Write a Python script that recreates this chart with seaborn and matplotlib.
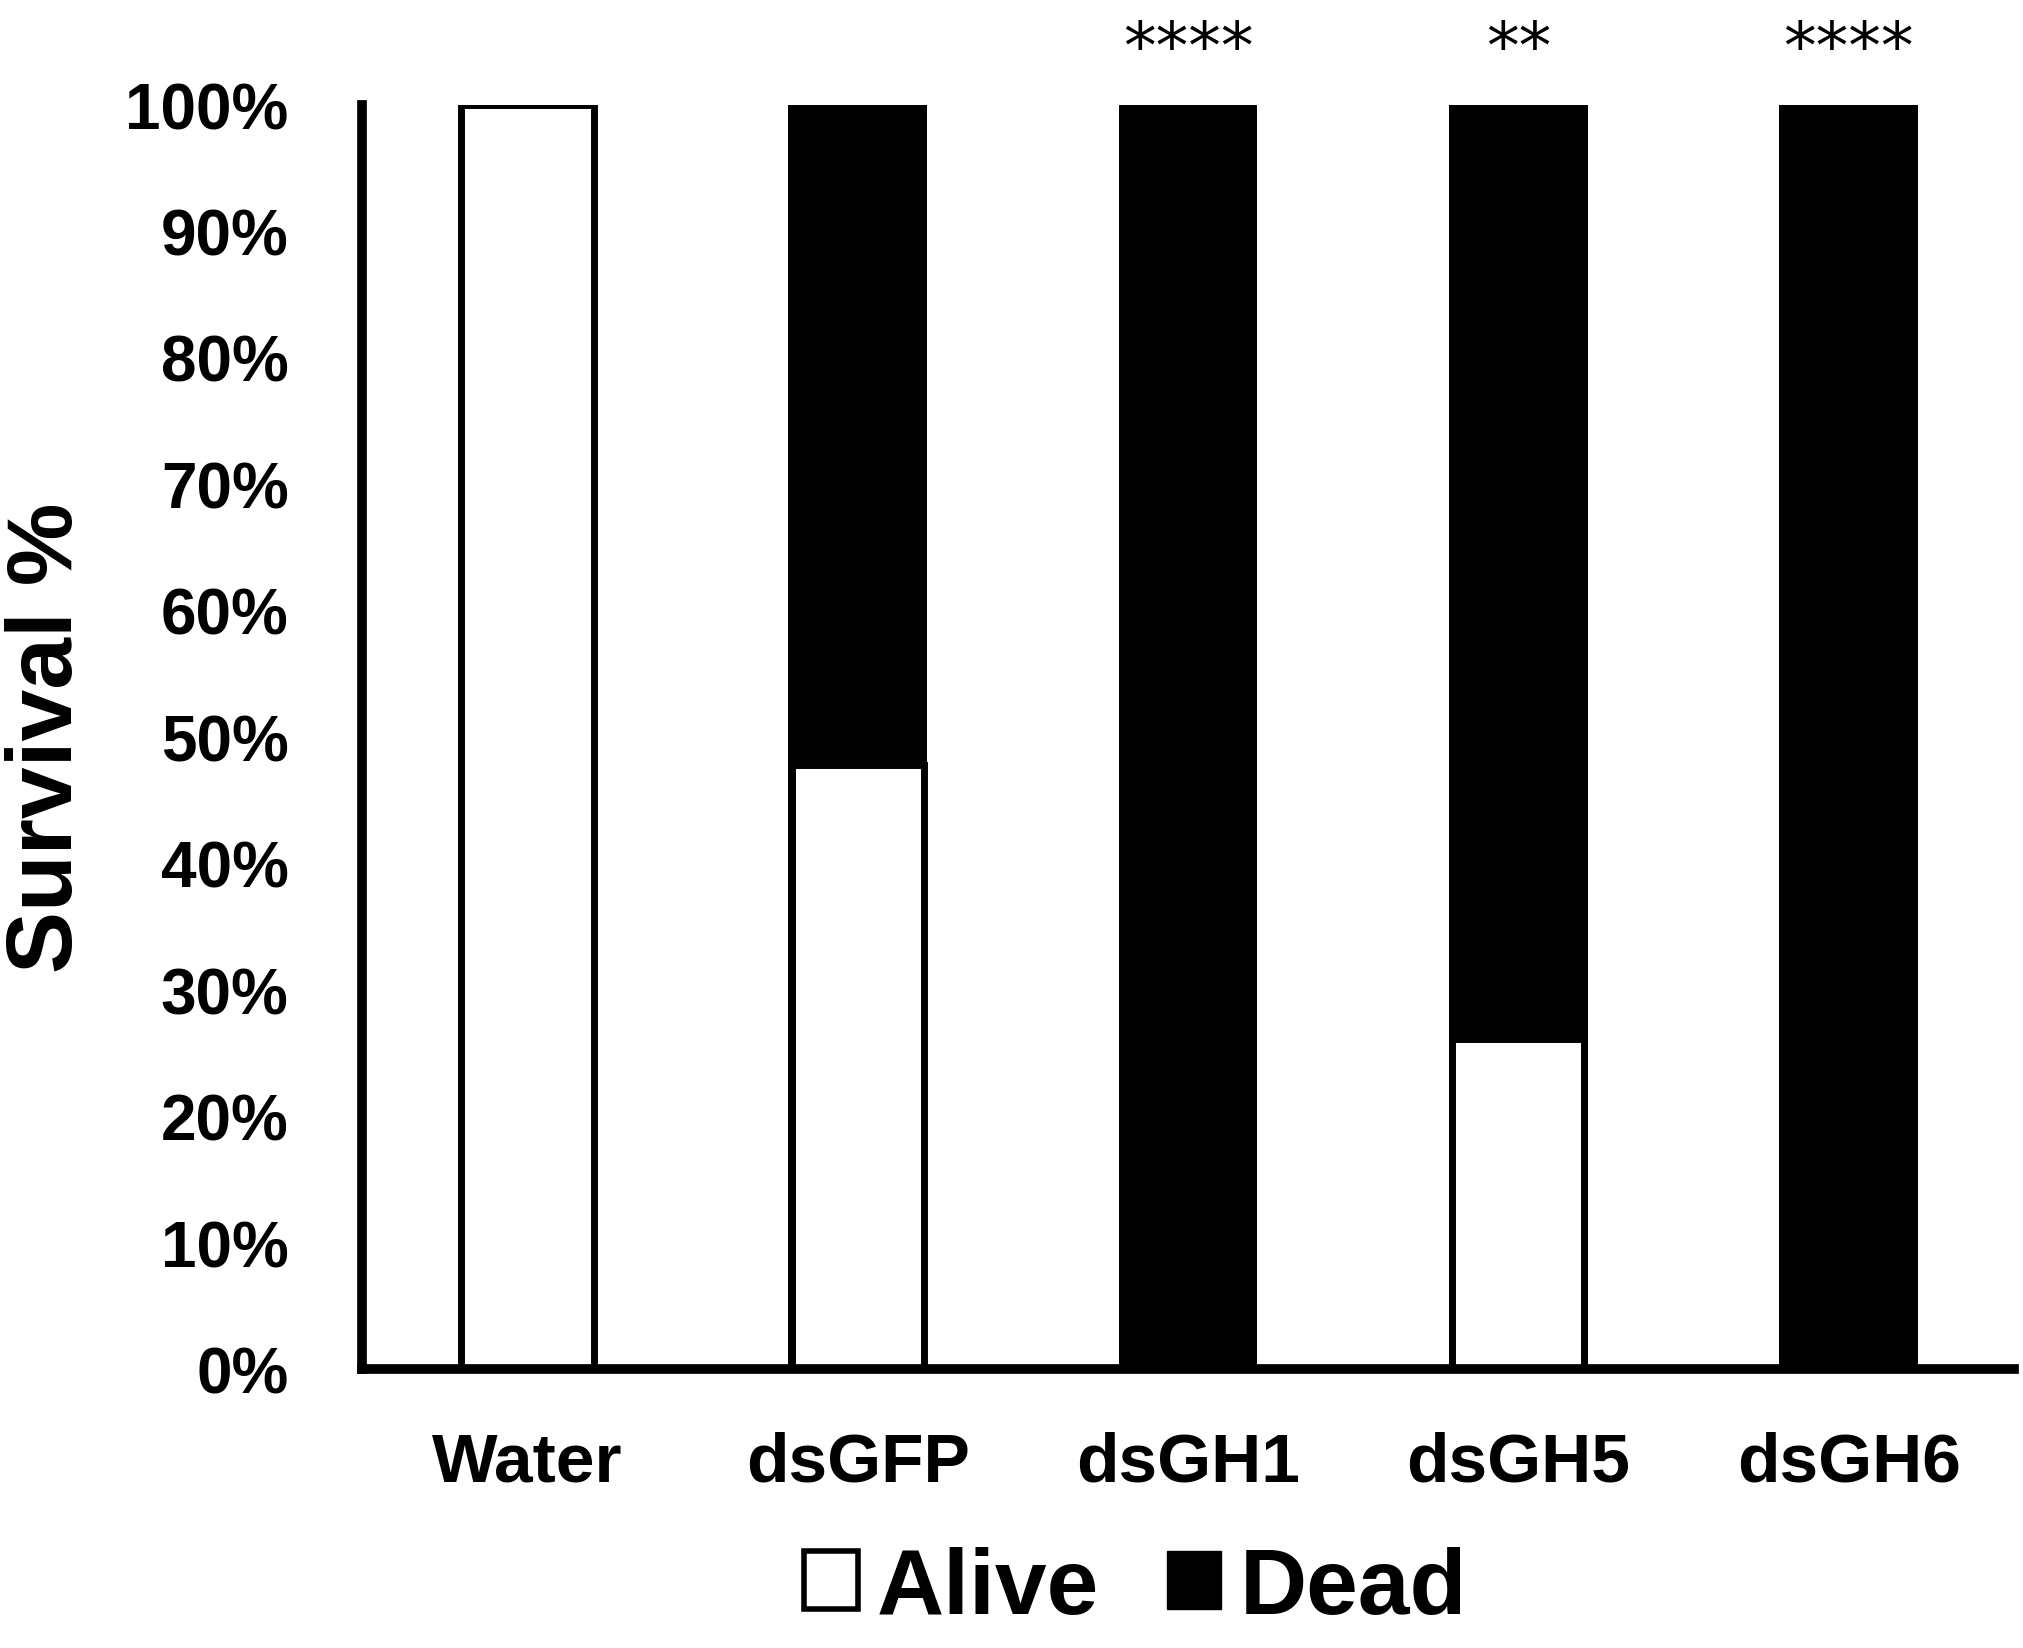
import matplotlib
matplotlib.use("Agg")
import matplotlib.pyplot as plt
import seaborn as sns
from matplotlib.patches import Patch
from matplotlib.ticker import PercentFormatter, MultipleLocator

# data (fractions)
groups = ["Water", "dsGFP", "dsGH1", "dsGH5", "dsGH6"]
alive = [1.0, 0.478, 0.0, 0.261, 0.0]
dead = [0.0, 0.522, 1.0, 0.739, 1.0]
stars = ["", "", "****", "**", "****"]

sns.set_style("white")
plt.rcParams['font.family'] = ['Liberation Sans', 'DejaVu Sans']
plt.rcParams['text.color'] = 'black'
plt.rcParams['axes.labelcolor'] = 'black'
plt.rcParams['xtick.color'] = 'black'
plt.rcParams['ytick.color'] = 'black'

fig = plt.figure(figsize=(20.24, 16.49), dpi=100)
ax = fig.add_axes([0.179, 0.169, 0.816, 0.767])

# stacked: dead segment sits on top of alive, so draw the full stack first
stack_top = [a + d if d > 0 else 0 for a, d in zip(alive, dead)]
sns.barplot(x=groups, y=stack_top, color="black", saturation=1,
            width=0.42, linewidth=0, ax=ax)
sns.barplot(x=groups, y=alive, color="white", saturation=1,
            width=0.40, edgecolor="black", linewidth=5, ax=ax)

ax.set_xlim(-0.5, 4.5)
ax.set_ylim(0, 1)
ax.yaxis.set_major_locator(MultipleLocator(0.1))
ax.yaxis.set_major_formatter(PercentFormatter(1.0, decimals=0))

for side in ["top", "right"]:
    ax.spines[side].set_visible(False)
for side in ["left", "bottom"]:
    ax.spines[side].set_linewidth(7)
    ax.spines[side].set_color("black")

ax.tick_params(axis="y", length=0, pad=53, labelsize=46)
ax.tick_params(axis="x", length=0, pad=44, labelsize=50)
for lbl in ax.get_xticklabels() + ax.get_yticklabels():
    lbl.set_fontweight("bold")

ax.set_xlabel("")
ax.set_ylabel("Survival %", fontsize=67, fontweight="bold", labelpad=25)

for i, s in enumerate(stars):
    if s:
        ax.text(i, 1.043, s, ha="center", va="center", fontsize=47,
                family="DejaVu Sans", clip_on=False)

handles = [Patch(facecolor="white", edgecolor="black", linewidth=4, label="Alive"),
           Patch(facecolor="black", edgecolor="black", label="Dead")]
fig.legend(handles=handles, loc="center", bbox_to_anchor=(0.561, 0.036),
           ncol=2, frameon=False, prop={"weight": "bold", "size": 67},
           handlelength=0.58, handleheight=0.58, handletextpad=0.2,
           columnspacing=0.73)

fig.savefig("out.png", dpi=100)
